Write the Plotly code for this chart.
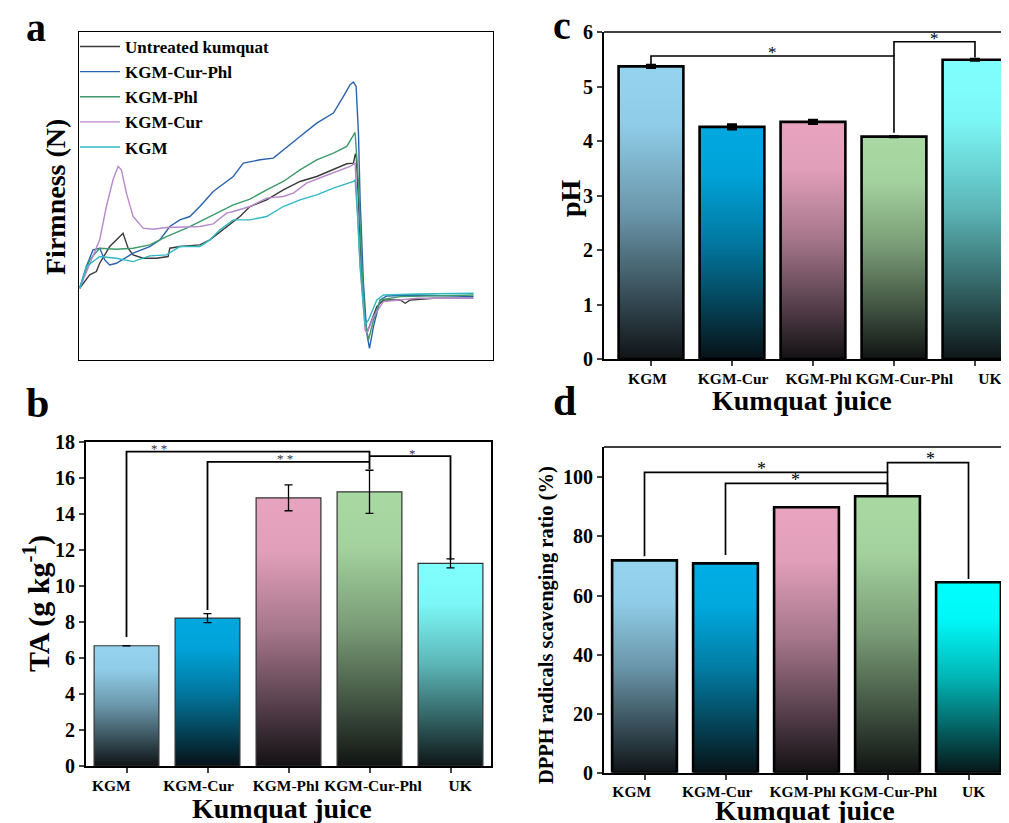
import plotly.graph_objects as go

FONT = "Liberation Serif"

# ---------------- Panel a: texture curves (arbitrary units) ----------------
untreated_x = [0.2, 3.2, 5.2, 6.2, 9.2, 12.7, 13.2, 14.7, 16.2, 19.2, 23.2, 26.7, 27.2, 30.2, 36.2, 39.2, 44.2, 48.2,
               51.2, 56.2, 61.2, 66.2, 71.2, 76.2, 80.2, 82.2, 82.7, 83.0, 83.7, 84.7, 85.7, 86.2, 87.7, 89.2, 91.2,
               96.2, 97.7, 99.2, 106.2, 118.0]
untreated_y = [21.5, 25.5, 26.5, 29.0, 34.0, 37.5, 38.0, 33.5, 31.5, 30.5, 30.5, 31.0, 33.5, 34.0, 34.5, 36.0, 40.0,
               43.0, 46.0, 48.0, 51.0, 53.5, 55.0, 57.0, 58.8, 59.0, 61.5, 61.8, 48.0, 23.0, 12.0, 8.0, 12.0, 16.0,
               18.0, 18.0, 17.0, 18.0, 18.5, 18.5]

curphl_x = [0.2, 2.2, 4.2, 6.2, 7.7, 9.2, 11.2, 16.2, 21.2, 24.2, 27.2, 30.2, 33.2, 36.2, 40.2, 46.2, 49.2, 54.2, 58.2,
            61.2, 66.2, 71.2, 76.2, 79.2, 81.2, 82.2, 83.0, 83.7, 84.2, 85.2, 86.2, 87.0, 88.2, 90.2, 92.2, 101.2, 118.2]
curphl_y = [21.5, 28.0, 33.0, 33.5, 30.0, 28.5, 29.0, 32.0, 34.0, 36.0, 40.0, 42.0, 43.0, 46.0, 50.5, 55.0, 59.0, 60.0,
            60.5, 63.0, 67.0, 71.0, 74.0, 79.0, 82.5, 83.3, 82.0, 68.0, 48.0, 23.0, 8.0, 3.5, 10.0, 18.0, 19.2, 19.5,
            19.0]

phl_x = [0.2, 3.2, 6.2, 11.2, 16.2, 21.2, 26.2, 32.2, 36.2, 41.2, 46.2, 51.2, 56.2, 61.2, 66.2, 71.2, 76.2, 80.2, 82.2,
         82.7, 83.7, 84.7, 85.7, 86.7, 88.2, 90.2, 96.2, 118.2]
phl_y = [21.5, 30.0, 33.5, 33.2, 33.5, 34.5, 37.0, 39.5, 41.5, 44.0, 46.5, 48.2, 51.0, 53.5, 57.0, 60.0, 62.0, 64.0,
         67.5, 68.2, 53.0, 28.0, 12.0, 6.0, 12.0, 18.0, 19.0, 19.5]

cur_x = [0.2, 3.2, 6.2, 8.2, 10.2, 11.7, 12.7, 14.2, 16.2, 19.2, 22.2, 26.2, 31.2, 36.2, 40.2, 44.2, 46.2, 51.2, 56.2,
         61.2, 64.2, 68.2, 73.2, 77.2, 81.2, 82.7, 83.2, 84.2, 85.7, 86.2, 88.2, 91.2, 101.2, 118.2]
cur_y = [21.5, 29.0, 36.0, 46.0, 54.0, 58.0, 57.0, 50.0, 43.0, 39.5, 39.2, 39.7, 39.8, 40.0, 40.8, 44.0, 44.5, 46.0,
         48.5, 49.0, 50.0, 53.0, 55.0, 56.5, 58.0, 59.0, 50.0, 28.0, 9.0, 8.0, 13.0, 17.5, 18.5, 18.5]

kgm_x = [0.2, 2.2, 6.2, 11.2, 16.2, 21.2, 26.2, 30.2, 36.2, 39.2, 42.2, 46.2, 51.2, 56.2, 61.2, 66.2, 71.2, 76.2, 82.2,
         82.7, 83.4, 84.2, 85.2, 85.7, 86.7, 89.2, 91.2, 101.2, 118.2]
kgm_y = [21.5, 28.0, 31.0, 30.5, 29.5, 31.2, 31.5, 34.0, 34.0, 36.0, 39.0, 42.0, 42.0, 43.0, 46.0, 48.0, 49.5, 51.5,
         53.5, 54.0, 44.0, 28.0, 16.0, 10.5, 12.0, 18.0, 19.5, 19.8, 20.0]

curve_names = ["Untreated kumquat", "KGM-Cur-Phl", "KGM-Phl", "KGM-Cur", "KGM"]
curve_colors = ["#3a3a3a", "#2a62ae", "#3d9a6b", "#b888cc", "#30b8c4"]

# ---------------- Bar panels ----------------
categories = ["KGM", "KGM-Cur", "KGM-Phl", "KGM-Cur-Phl", "UK"]
ta_values = [6.68, 8.22, 14.9, 15.23, 11.26]
ta_errors = [0, 0.25, 0.72, 1.2, 0.25]
ph_values = [5.37, 4.26, 4.35, 4.08, 5.49]
ph_errors = [0.02, 0.04, 0.03, 0.0, 0.01]
dpph_values = [71.9, 70.9, 89.9, 93.6, 64.5]

bc_top_colors = ["#94d3ee", "#00a8e0", "#e8a4bf", "#a9d9a3", "#80ffff"]
d_top_colors = ["#94d3ee", "#00aee5", "#e8a4bf", "#a9d9a3", "#00ffff"]

# significance brackets: (from idx, y start, to idx, y end, y top, star x, label)
ta_brackets = [(0, 7.17, 3, 16.48, 17.46, 0.4, "* *"),
               (1, 8.67, 3, 16.9, 16.9, 1.96, "* *"),
               (3, 17.22, 4, 11.44, 17.22, 3.53, "*")]
ph_brackets = [(0, 5.40, 3, 4.15, 5.56, 1.5, "*"),
               (3, 5.56, 4, 5.53, 5.82, 3.5, "*")]
dpph_brackets = [(0, 73.3, 3, 93.6, 101.7, 1.44, "*"),
                 (1, 73.7, 3, 93.6, 98.0, 1.86, "*"),
                 (3, 101.7, 4, 65.6, 105.0, 3.53, "*")]

BAR_W = 0.8

# page is shown with the browser's default 8px body margin
W, H, OFF = 1001, 815, 8


def PX(x):
    return (x - OFF) / W


def PY(y):
    return 1 - (y - OFF) / H


def shade(hexcol, f):
    r, g, b = int(hexcol[1:3], 16), int(hexcol[3:5], 16), int(hexcol[5:7], 16)
    return "rgb(%d,%d,%d)" % (r * f + 8 * (1 - f), g * f + 10 * (1 - f), b * f + 12 * (1 - f))


def grad(top):
    return [[0, shade(top, 0.05)], [0.25, shade(top, 0.38)], [0.5, shade(top, 0.70)],
            [0.8, shade(top, 0.97)], [1, top]]


fig = go.Figure()

for nm, xs, ys, col in zip(curve_names, [untreated_x, curphl_x, phl_x, cur_x, kgm_x],
                           [untreated_y, curphl_y, phl_y, cur_y, kgm_y], curve_colors):
    fig.add_trace(go.Scatter(x=xs, y=ys, mode="lines", name=nm, line=dict(color=col, width=1.4),
                             xaxis="x", yaxis="y", showlegend=True))


def add_bars(vals, errs, tops, xa, ya, outline_w, outline_c, err_th, err_w):
    for i, v in enumerate(vals):
        x0, x1 = i - BAR_W / 2, i + BAR_W / 2
        fig.add_trace(go.Scatter(
            x=[x0, x0, x1, x1, x0], y=[0, v, v, 0, 0], mode="lines", fill="toself",
            fillgradient=dict(type="vertical", colorscale=grad(tops[i])),
            line=dict(color=outline_c, width=outline_w), xaxis=xa, yaxis=ya,
            showlegend=False, hoverinfo="skip"))
    if errs is not None:
        fig.add_trace(go.Scatter(
            x=list(range(len(vals))), y=vals, mode="markers",
            marker=dict(size=1, color="rgba(0,0,0,0)"),
            error_y=dict(type="data", array=errs, visible=True, color="black",
                         thickness=err_th, width=err_w),
            xaxis=xa, yaxis=ya, showlegend=False))


add_bars(ta_values, ta_errors, bc_top_colors, "x2", "y2", 1.2, "#333333", 1.3, 4)
add_bars(ph_values, ph_errors, bc_top_colors, "x3", "y3", 2.6, "black", 3, 5)
add_bars(dpph_values, None, d_top_colors, "x4", "y4", 2.6, "black", 2, 4)

# empty traces so the category-label axes (set slightly wider than the bars, as in the figure) are drawn
for xa, ya in [("x5", "y2"), ("x6", "y3"), ("x7", "y4")]:
    fig.add_trace(go.Scatter(x=[], y=[], xaxis=xa, yaxis=ya, showlegend=False, hoverinfo="skip"))

shapes = []
annos = []


def add_brackets(brs, xa, ya, lw, star_size, star_shift, star_color):
    for (i1, y1, i2, y2, yt, sx, lab) in brs:
        shapes.append(dict(type="path", xref=xa, yref=ya,
                           path="M %s,%s L %s,%s L %s,%s L %s,%s" % (i1, y1, i1, yt, i2, yt, i2, y2),
                           line=dict(color="black", width=lw)))
        annos.append(dict(x=sx, y=yt, xref=xa, yref=ya, text=lab, showarrow=False,
                          yanchor="middle", yshift=star_shift,
                          font=dict(family=FONT, size=star_size, color=star_color)))


add_brackets(ta_brackets, "x2", "y2", 1.8, 13, 3, "#333333")
add_brackets(ph_brackets, "x3", "y3", 1.6, 17, 3, "black")
add_brackets(dpph_brackets, "x4", "y4", 1.7, 18, 3.5, "black")

# top frame lines for c and d (right side cut off by the picture edge)
for ax in ["3", "4"]:
    shapes.append(dict(type="line", xref="x%s domain" % ax, yref="y%s domain" % ax,
                       x0=0, x1=1, y0=1, y1=1, line=dict(color="black", width=1.5)))


def txt(x, y, s, size, angle=0, xanchor="center", yanchor="middle"):
    annos.append(dict(x=PX(x), y=PY(y), xref="paper", yref="paper", text=s, showarrow=False,
                      textangle=angle, xanchor=xanchor, yanchor=yanchor,
                      font=dict(family=FONT, size=size, color="black")))


# panel letters
txt(36, 28, "<b>a</b>", 40)
txt(37, 403, "<b>b</b>", 42)
txt(562, 26, "<b>c</b>", 40)
txt(564, 401, "<b>d</b>", 42)
# axis titles
txt(55, 197, "<b>Firmness (N)</b>", 28, -90)
txt(36, 604, "<b>TA (g kg<sup>-1</sup>)</b>", 30, -90)
txt(282, 808, "<b>Kumquat juice</b>", 28)
txt(570, 198, "<b>pH</b>", 28, -90)
txt(802, 400, "<b>Kumquat juice</b>", 28)
txt(546, 625, "<b>DPPH radicals scavenging ratio (%)</b>", 20.5, -90)
txt(805, 810, "<b>Kumquat juice</b>", 28)

tickfont = dict(family=FONT, size=20, color="black", weight="bold")
xtickfont = dict(family=FONT, size=15.5, color="black", weight="bold")
cat_text = ["<b>%s</b>" % c for c in categories]

common_x = dict(tickvals=list(range(5)), showticklabels=False, ticks="outside",
                ticklen=5, tickwidth=1.5, showline=True, linecolor="black", linewidth=2,
                showgrid=False, zeroline=False, automargin=False)
label_x = dict(tickvals=list(range(5)), ticktext=cat_text, tickfont=xtickfont, ticks="outside",
               ticklen=5, tickcolor="rgba(0,0,0,0)", showline=False, showgrid=False, zeroline=False,
               tickangle=0, automargin=False, side="bottom", ticklabeloverflow="allow")
common_y = dict(tickfont=tickfont, ticks="outside", ticklen=5, tickwidth=1.5, showline=True,
                linecolor="black", linewidth=2, showgrid=False, zeroline=False, automargin=False)

fig.update_layout(
    width=W, height=H, margin=dict(l=0, r=0, t=0, b=0, autoexpand=False),
    paper_bgcolor="white", plot_bgcolor="white",
    showlegend=True,
    legend=dict(x=PX(75), y=PY(29), xanchor="left", yanchor="top",
                bgcolor="rgba(0,0,0,0)", font=dict(family=FONT, size=17, color="black", weight="bold"),
                tracegroupgap=0, itemwidth=40),
    shapes=shapes, annotations=annos,
    # panel a
    xaxis=dict(domain=[PX(79), PX(493)], range=[0, 124], showline=True, mirror=True,
               linecolor="black", linewidth=1.2, showticklabels=False, ticks="", showgrid=False,
               zeroline=False, automargin=False),
    yaxis=dict(domain=[PY(360), PY(32)], range=[0, 98.3], showline=True, mirror=True,
               linecolor="black", linewidth=1.2, showticklabels=False, ticks="", showgrid=False,
               zeroline=False, automargin=False),
    # panel b
    xaxis2=dict(domain=[PX(86), PX(491)], range=[-0.5, 4.5], mirror=True, anchor="y2", **common_x),
    yaxis2=dict(domain=[PY(766), PY(442)], range=[0, 18], dtick=2, mirror=True, anchor="x2", **common_y),
    xaxis5=dict(overlaying="x2", anchor="y2", range=[-0.291, 4.353], **label_x),
    # panel c
    xaxis3=dict(domain=[PX(604), 1.0], range=[-0.58, 4.42], anchor="y3", **common_x),
    yaxis3=dict(domain=[PY(359), PY(32)], range=[0, 6], dtick=1, anchor="x3", **common_y),
    xaxis6=dict(overlaying="x3", anchor="y3", range=[-0.508, 4.223], **label_x),
    # panel d
    xaxis4=dict(domain=[PX(604), 1.0], range=[-0.5, 4.5], anchor="y4", **common_x),
    yaxis4=dict(domain=[PY(772.7), PY(447)], range=[0, 110.3], tickvals=[0, 20, 40, 60, 80, 100],
                anchor="x4", **common_y),
    xaxis7=dict(overlaying="x4", anchor="y4", range=[-0.324, 4.413], **label_x),
)

fig.write_html("out.html")
